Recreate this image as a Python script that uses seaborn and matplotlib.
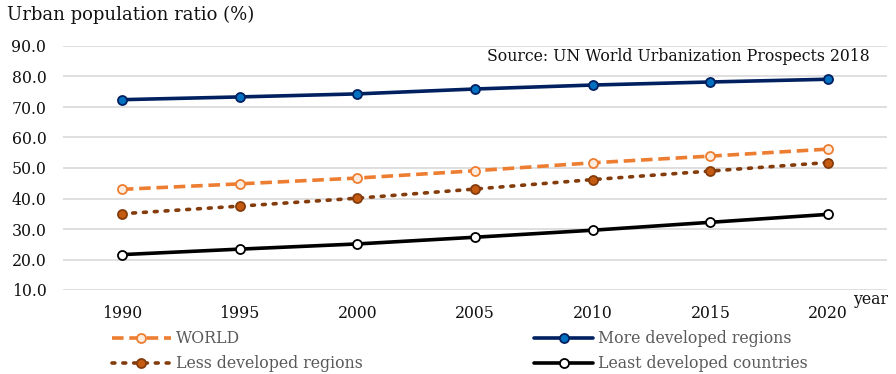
import matplotlib
matplotlib.use("Agg")
import matplotlib.pyplot as plt
import seaborn as sns
import pandas as pd

years = [1990, 1995, 2000, 2005, 2010, 2015, 2020]
world = [43.0, 44.8, 46.7, 49.1, 51.7, 53.9, 56.2]
more_dev = [72.4, 73.3, 74.3, 75.9, 77.2, 78.2, 79.1]
less_dev = [35.0, 37.5, 40.1, 43.1, 46.2, 49.0, 51.8]
least_dev = [21.6, 23.4, 25.1, 27.3, 29.6, 32.2, 34.8]
yticks = [10, 20, 30, 40, 50, 60, 70, 80, 90]

sns.set_theme(style="white")
plt.rcParams["font.family"] = ["DejaVu Serif"]

fig = plt.figure(figsize=(8.96, 3.74), dpi=100)
ax = fig.add_axes([63/896, 1-290/374, 824/896, 244/374])

series = [
    ("WORLD", world, dict(color="#ED7D31", linestyle=(0, (3.2, 1.6)), marker="o",
                          markerfacecolor="#FDEBDD", markeredgecolor="#ED7D31")),
    ("Less developed regions", less_dev, dict(color="#843C0C", linestyle=(0, (0.8, 2.2)), marker="o",
                          markerfacecolor="#C55A11", markeredgecolor="#843C0C", dash_capstyle="round")),
    ("More developed regions", more_dev, dict(color="#002060", linestyle="-", marker="o",
                          markerfacecolor="#0070C0", markeredgecolor="#002060")),
    ("Least developed countries", least_dev, dict(color="#000000", linestyle="-", marker="o",
                          markerfacecolor="#FFFFFF", markeredgecolor="#000000")),
]

handles = []
for name, vals, st in series:
    df = pd.DataFrame({"year": years, "value": vals})
    sns.lineplot(data=df, x="year", y="value", ax=ax, linewidth=2.6, markersize=6.5,
                 markeredgewidth=1.3, label=name, legend=False, **st)
    handles.append(ax.lines[-1])

fs = 11.3
ax.set_xlim(1987.5, 2022.5)
ax.set_ylim(10, 90)
ax.set_yticks(yticks)
ax.set_yticklabels([f"{v:.1f}" for v in yticks], fontsize=fs, color="#111111")
ax.set_xticks(years)
ax.set_xticklabels([str(y) for y in years], fontsize=fs, color="#111111")
ax.tick_params(axis="x", pad=11, length=0)
ax.tick_params(axis="y", pad=12, length=0)
ax.grid(axis="y", color="#D9D9D9", linewidth=1.2)
ax.set_axisbelow(True)
for s in ax.spines.values():
    s.set_visible(False)
ax.set_xlabel("")
ax.set_ylabel("")

fig.text(7/896, 1-15/374, "Urban population ratio (%)", fontsize=13, va="center", ha="left", color="#111111")
ax.text(0.9795, 0.955, "Source: UN World Urbanization Prospects 2018", transform=ax.transAxes,
        fontsize=11.3, ha="right", va="center", color="#111111")
fig.text(853/896, 1-300/374, "year", fontsize=fs, ha="left", va="center", color="#111111")

leg = fig.legend(handles=handles, labels=[s[0] for s in series], ncol=2,
                 loc="upper left", bbox_to_anchor=(112/896, 1-330/374), frameon=False,
                 fontsize=fs, handlelength=3.75, numpoints=1, columnspacing=10.95,
                 handletextpad=0.3, labelspacing=0.52, labelcolor="#595959",
                 borderpad=0, borderaxespad=0)

fig.savefig("out.png", dpi=100)
